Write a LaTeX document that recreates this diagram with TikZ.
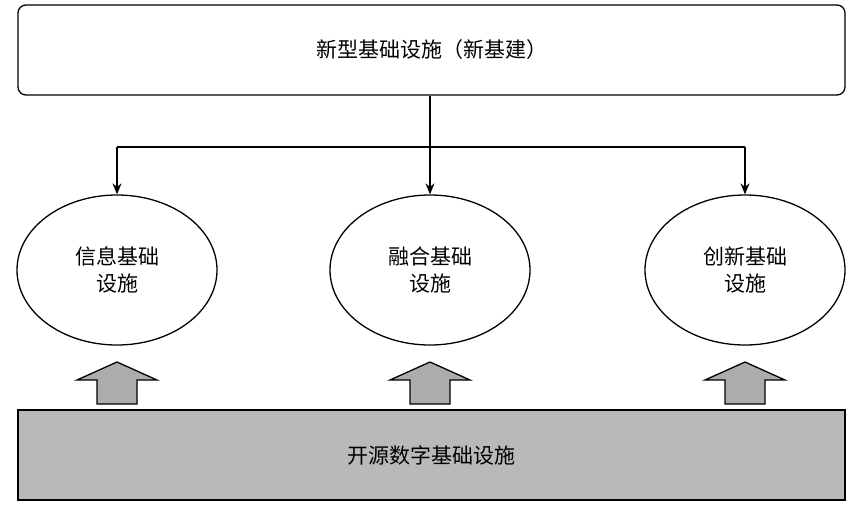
\documentclass[tikz,border=0pt]{standalone}
\usepackage{fontspec}
\setmainfont{Noto Sans CJK SC}
\usetikzlibrary{arrows.meta,shapes.geometric}
\tikzset{
  ell/.style={draw,line width=1.3pt,ellipse,minimum width=200pt,minimum height=150pt,align=center,font=\fontsize{21}{27}\selectfont},
  con/.style={line width=1.3pt,-{Stealth[length=11pt,width=9pt]}},
  uparr/.style={draw,line width=1.3pt,fill=gray!65},
}
\newcommand{\uparrowshape}[1]{\draw[uparr] ([shift={(0,-22)}]#1) -- ([shift={(40,-4)}]#1) -- ([shift={(20,-4)}]#1) -- ([shift={(20,20)}]#1) -- ([shift={(-20,20)}]#1) -- ([shift={(-20,-4)}]#1) -- ([shift={(-40,-4)}]#1) -- cycle;}
\begin{document}
\begin{tikzpicture}[x=1pt,y=-1pt]
\useasboundingbox (0,0) rectangle (860,507);
\node[draw,line width=1.3pt,rounded corners=8pt,minimum width=827pt,minimum height=90pt,font=\fontsize{21}{25}\selectfont] (top) at (431.5,50) {新型基础设施（新基建）};
\node[ell] (a) at (117,270) {信息基础\\设施};
\node[ell] (b) at (430,270) {融合基础\\设施};
\node[ell] (c) at (745,270) {创新基础\\设施};
\coordinate (j) at (430,147);
\draw[con] (top.south -| j) -- (b.north);
\draw[line width=1.3pt] (a.north |- j) -- (c.north |- j);
\draw[con] (a.north |- j) -- (a.north);
\draw[con] (c.north |- j) -- (c.north);
\node[draw,line width=1.3pt,fill=gray!55,minimum width=827pt,minimum height=90pt,font=\fontsize{21}{25}\selectfont] (bot) at (431.5,455) {开源数字基础设施};
\coordinate (ua) at (117,384);
\coordinate (ub) at (430,384);
\coordinate (uc) at (745,384);
\uparrowshape{ua}
\uparrowshape{ub}
\uparrowshape{uc}
\end{tikzpicture}
\end{document}
